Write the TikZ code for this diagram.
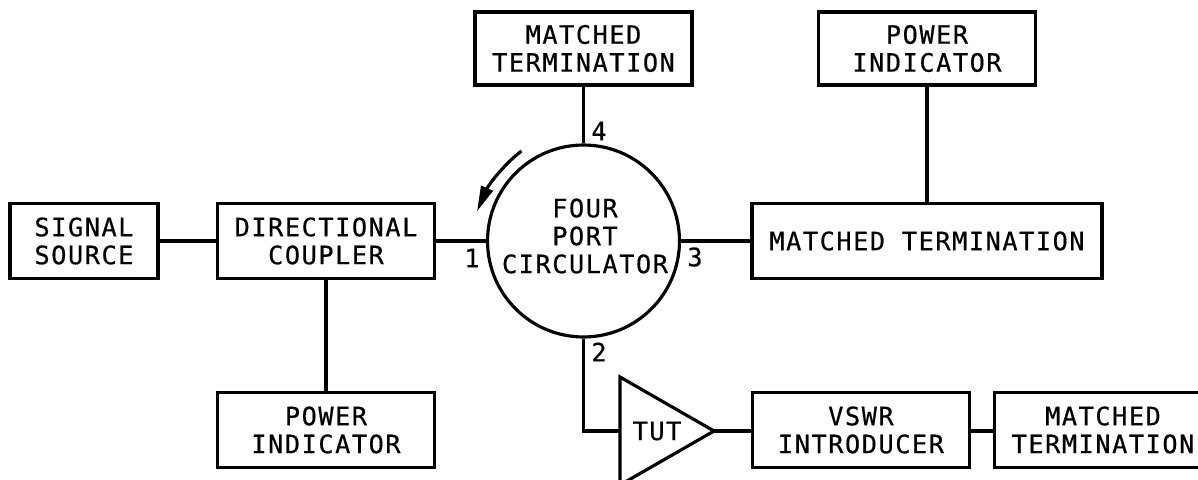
\documentclass[tikz,border=0pt]{standalone}
\usepackage{fontspec}
\setmonofont[LetterSpace=6,FakeBold=0.5]{DejaVu Sans Mono}
\usetikzlibrary{arrows.meta}
\tikzset{
block/.style={draw,line width=1.8pt,inner sep=0pt,align=center,font=\labelfont,minimum height=1.5cm},
blockS/.style={block,minimum width=2.96cm},
blockM/.style={block,minimum width=4.34cm},
blockT/.style={blockM,minimum height=1.46cm},
blockL/.style={block,minimum width=7cm},
port/.style={inner sep=0pt,font=\labelfont,align=center},
wire/.style={line width=1.8pt}
}
\newcommand{\labelfont}{\ttfamily\fontsize{14.4}{15.9}\selectfont}
\begin{document}
\begin{tikzpicture}[x=0.02cm,y=-0.02cm]
\useasboundingbox (0,0) rectangle (1198,480);
%left side
\node [blockS] (signal) at (84,241) {SIGNAL\\SOURCE};
\node [blockM] (coupler) at (326,241) {DIRECTIONAL\\COUPLER};
\node [blockM] (powerL) at (326,430) {POWER\\INDICATOR};
%circulator
\node [draw,circle,line width=1.8pt,minimum size=3.84cm,inner sep=0pt] (circ) at (583.5,241) {};
\node [port] (circText) at (585,236) {FOUR\\PORT\\CIRCULATOR};
\node [blockT] (matchT) at (583.5,48.5) {MATCHED\\TERMINATION};
%right side
\node [blockT] (powerR) at (927,48.5) {POWER\\INDICATOR};
\node [blockL] (matchR) at (927,241) {MATCHED TERMINATION};
\node [blockM] (vswr) at (861,430) {VSWR\\INTRODUCER};
\node [blockM] (matchB) at (1103,430) {MATCHED\\TERMINATION};
%TUT
\coordinate (tutA) at (620,377);
\coordinate (tutB) at (714,431);
\coordinate (tutC) at (620,485);
\coordinate (tutIn) at (620,431);
\coordinate (bendP) at (583.5,431);
\draw [wire,line join=miter] (tutA)--(tutB)--(tutC)--cycle;
\node [port] (tut) at (657,431) {TUT};
%ports
\node [port] (p4) at (599,131) {4};
\node [port] (p1) at (472,258) {1};
\node [port] (p3) at (695,257) {3};
\node [port] (p2) at (599,352) {2};
%wires
\draw [wire] (signal.east)--(coupler.west);
\draw [wire] (coupler.east)--(circ.west);
\draw [wire] (coupler.south)--(powerL.north);
\draw [wire] (matchT.south)--(circ.north);
\draw [wire] (circ.east)--(matchR.west);
\draw [wire] (powerR.south)--(matchR.north);
\draw [wire] (circ.south)--(bendP)--(tutIn);
\draw [wire] (tutB)--(vswr.west |- tutB);
\draw [wire] (vswr.east |- tutB)--(matchB.west |- tutB);
%rotation arrow
\coordinate (rotA) at (521.5,151);
\coordinate (rotB) at (477,211.5);
\draw [wire,-{Triangle[length=14.5pt,width=7pt]}] (rotA) .. controls (503,165) and (488,186) .. (rotB);
\end{tikzpicture}
\end{document}
